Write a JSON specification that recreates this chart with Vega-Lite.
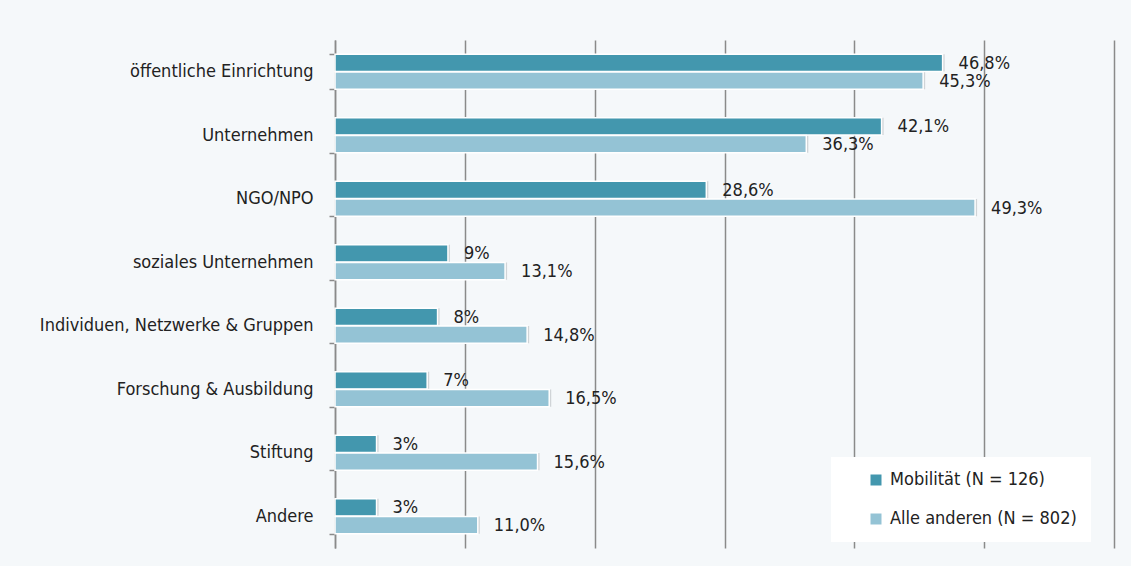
{
  "$schema": "https://vega.github.io/schema/vega-lite/v6.json",
  "autosize": {"type": "none"},
  "width": 779,
  "height": 508,
  "padding": {"left": 335, "top": 40, "right": 17, "bottom": 18},
  "background": "#F5F8FA",
  "config": {
    "view": {"stroke": null},
    "font": "'DejaVu Sans Condensed', Roboto, sans-serif"
  },
  "data": {
    "values": [
      {"kategorie": "öffentliche Einrichtung", "gruppe": "Mobilität (N = 126)", "wert": 46.8, "label": "46,8%"},
      {"kategorie": "öffentliche Einrichtung", "gruppe": "Alle anderen (N = 802)", "wert": 45.3, "label": "45,3%"},
      {"kategorie": "Unternehmen", "gruppe": "Mobilität (N = 126)", "wert": 42.1, "label": "42,1%"},
      {"kategorie": "Unternehmen", "gruppe": "Alle anderen (N = 802)", "wert": 36.3, "label": "36,3%"},
      {"kategorie": "NGO/NPO", "gruppe": "Mobilität (N = 126)", "wert": 28.6, "label": "28,6%"},
      {"kategorie": "NGO/NPO", "gruppe": "Alle anderen (N = 802)", "wert": 49.3, "label": "49,3%"},
      {"kategorie": "soziales Unternehmen", "gruppe": "Mobilität (N = 126)", "wert": 8.7, "label": "9%"},
      {"kategorie": "soziales Unternehmen", "gruppe": "Alle anderen (N = 802)", "wert": 13.1, "label": "13,1%"},
      {"kategorie": "Individuen, Netzwerke & Gruppen", "gruppe": "Mobilität (N = 126)", "wert": 7.9, "label": "8%"},
      {"kategorie": "Individuen, Netzwerke & Gruppen", "gruppe": "Alle anderen (N = 802)", "wert": 14.8, "label": "14,8%"},
      {"kategorie": "Forschung & Ausbildung", "gruppe": "Mobilität (N = 126)", "wert": 7.1, "label": "7%"},
      {"kategorie": "Forschung & Ausbildung", "gruppe": "Alle anderen (N = 802)", "wert": 16.5, "label": "16,5%"},
      {"kategorie": "Stiftung", "gruppe": "Mobilität (N = 126)", "wert": 3.2, "label": "3%"},
      {"kategorie": "Stiftung", "gruppe": "Alle anderen (N = 802)", "wert": 15.6, "label": "15,6%"},
      {"kategorie": "Andere", "gruppe": "Mobilität (N = 126)", "wert": 3.2, "label": "3%"},
      {"kategorie": "Andere", "gruppe": "Alle anderen (N = 802)", "wert": 11.0, "label": "11,0%"}
    ]
  },
  "encoding": {
    "y": {
      "field": "kategorie",
      "type": "nominal",
      "sort": null,
      "scale": {"paddingInner": 0.45, "paddingOuter": 0.225},
      "axis": {
        "title": null,
        "tickBand": "extent",
        "tickSize": 6,
        "tickColor": "#8a8a8a",
        "tickWidth": 1.5,
        "domainColor": "#8a8a8a",
        "domainWidth": 1.5,
        "labelFontSize": 18,
        "labelColor": "#222222",
        "labelPadding": 16,
        "labelLimit": 400,
        "grid": false
      }
    },
    "yOffset": {
      "field": "gruppe",
      "type": "nominal",
      "sort": ["Mobilität (N = 126)", "Alle anderen (N = 802)"],
      "scale": {"paddingInner": 0.03}
    },
    "x": {
      "field": "wert",
      "type": "quantitative",
      "scale": {"domain": [0, 60], "nice": false},
      "axis": {
        "title": null,
        "values": [0, 10, 20, 30, 40, 50, 60],
        "labels": false,
        "ticks": false,
        "domain": false,
        "grid": true,
        "gridColor": "#8a8a8a",
        "gridWidth": 1.5
      }
    }
  },
  "layer": [
    {
      "mark": {"type": "bar", "color": "#b8bcc0", "opacity": 0.6, "xOffset": 2, "yOffset": 2},
      "encoding": {}
    },
    {
      "mark": {"type": "bar", "stroke": "white", "strokeWidth": 1.5},
      "encoding": {
        "color": {
          "field": "gruppe",
          "type": "nominal",
          "sort": ["Mobilität (N = 126)", "Alle anderen (N = 802)"],
          "scale": {"domain": ["Mobilität (N = 126)", "Alle anderen (N = 802)"], "range": ["#4397AE", "#94C3D5"]},
          "legend": {
            "title": null,
            "orient": "none",
            "legendX": 496,
            "legendY": 417,
            "fillColor": "white",
            "padding": 14,
            "symbolType": "square",
            "symbolSize": 121,
            "symbolStrokeWidth": 0,
            "symbolOffset": 22,
            "labelFontSize": 18,
            "labelLimit": 400,
            "labelColor": "#222222",
            "labelOffset": 5,
            "rowPadding": 21
          }
        }
      }
    },
    {
      "mark": {"type": "text", "align": "left", "baseline": "middle", "dx": 16, "dy": 1, "fontSize": 18, "color": "#222222"},
      "encoding": {
        "text": {"field": "label"}
      }
    }
  ]
}
